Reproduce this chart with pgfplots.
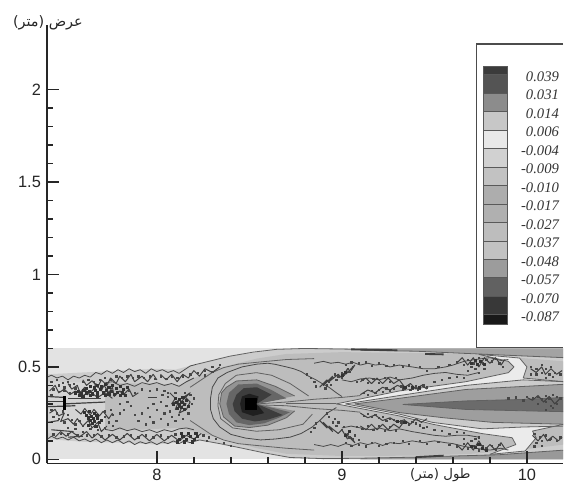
\documentclass[border=0pt]{standalone}
\usepackage{pgfplots}
\usepackage{fontspec}
\pgfplotsset{compat=1.18}
\setmainfont{Liberation Sans}
\newfontfamily\arabicfont[Script=Arabic]{DejaVu Sans}
\newfontfamily\legfont{Liberation Serif}
\TeXXeTstate=1
\newcommand\rg[2]{\addplot[fill=black!#1,draw=none,forget plot] coordinates {#2} -- cycle;}
\newcommand\cl[1]{\addplot[ctr,forget plot] coordinates {#1};}
\newcommand\nz[1]{\addplot[nzs,forget plot] coordinates {#1};}
\newcommand\scr[1]{\addplot[no marks,color=black!75,line width=0.75pt,line join=round,forget plot] coordinates {#1};}
\newcommand\spk[1]{\addplot[only marks,mark=square*,mark size=0.5pt,color=black!72,forget plot] coordinates {#1};}
\newcommand\dk[1]{\addplot[only marks,mark=square*,mark size=0.8pt,color=black!80,forget plot] coordinates {#1};}
\pgfplotsset{ctr/.style={no marks,color=black!62,line width=0.6pt,line join=round},
 nzs/.style={no marks,color=black!72,line width=0.6pt,line join=round}}
\begin{document}
\begin{tikzpicture}
\begin{scope}[x=0.75pt,y=-0.75pt,shift={(-47,-464)}]
\path[use as bounding box] (0,0) rectangle (564,486);
\end{scope}
\begin{axis}[
 scale only axis,width=387.75pt,height=329.25pt,
 xmin=7.406,xmax=10.196,ymin=-0.0216,ymax=2.35,
 axis x line*=bottom,axis y line*=left,axis line style={-,line width=1.2pt,color=black!85},
 xtick={8,9,10},ytick={0,0.5,1,1.5,2},yticklabels={0,0.5,1,1.5,2},
 minor x tick num=4,minor y tick num=4,
 tick align=inside,tick style={line width=1pt,color=black!85},
 major tick length=9pt,minor tick length=4.5pt,
 tick label style={font=\fontsize{12.3}{14}\selectfont,color=black!85},
 /pgf/number format/assume math mode=true,
 xticklabel style={yshift=-1pt},yticklabel style={xshift=-1pt},
 axis on top,
]
% background band
\rg{11}{(7.406,0)(10.2,0)(10.2,0.6)(7.406,0.6)}
% outer noisy region (light)
\rg{20}{(7.406,.46)(7.6,.47)(7.8,.48)(8,.49)(8.1,.485)(8.21,.514)(8.39,.558)(8.646,.595)(8.9,.6)(10.2,.6)(10.2,0)(8.9,0)(8.72,.01)(8.45,.063)(8.23,.105)(8.1,.09)(8,.08)(7.8,.09)(7.6,.095)(7.406,.11)}
\rg{36}{(9.1,.6)(10.2,.6)(10.2,.55)(9.85,.565)(9.4,.585)(9.1,.59)}
\rg{40}{(9.1,.0)(10.2,.0)(10.2,.05)(9.85,.025)(9.4,.012)(9.1,.006)}
% main body
\rg{26}{(7.72,.414)(7.9,.41)(8,.41)(8.12,.40)(8.2,.44)(8.36,.5)(8.54,.545)(8.7,.57)(9,.58)(9.4,.575)(9.7,.568)(9.95,.55)(10.2,.53)(10.2,.08)(9.95,.05)(9.7,.03)(9.4,.02)(9,.018)(8.7,.03)(8.54,.06)(8.36,.11)(8.2,.15)(8.12,.17)(8,.165)(7.9,.16)(7.72,.162)}
\rg{17}{(7.406,.42)(7.72,.414)(7.72,.162)(7.406,.14)}
% right white band and wedges
\rg{8}{(8.97,.3)(9.31,.37)(9.67,.42)(9.9,.469)(9.93,.5)(9.9,.53)(9.74,.568)(9.96,.548)(10.0,.5)(9.98,.44)(10.2,.42)(10.2,.19)(10.03,.153)(10.05,.117)(9.99,.045)(9.8,.027)(9.94,.08)(9.92,.117)(9.76,.139)(9.49,.19)(9.31,.235)}
\rg{20}{(9.02,.3)(9.31,.345)(9.67,.4)(9.98,.43)(10.2,.42)(10.2,.18)(9.98,.175)(9.76,.165)(9.49,.2)(9.31,.245)}
\rg{38}{(9.07,.3)(9.31,.33)(9.67,.378)(10.2,.406)(10.2,.19)(9.815,.2)(9.55,.225)(9.31,.253)}
\rg{58}{(9.33,.297)(9.67,.316)(10.01,.325)(10.2,.335)(10.2,.258)(10.01,.262)(9.67,.27)}
% pacman
\rg{42}{(8.34,.3)(8.35,.36)(8.376,.39)(8.43,.424)(8.54,.43)(8.64,.395)(8.745,.343)(8.538,.3)(8.745,.262)(8.7,.225)(8.6,.185)(8.5,.172)(8.42,.18)(8.36,.23)}
\rg{60}{(8.376,.3)(8.39,.36)(8.44,.405)(8.54,.41)(8.62,.375)(8.7,.33)(8.54,.3)(8.72,.255)(8.66,.225)(8.58,.195)(8.5,.185)(8.43,.2)(8.39,.245)}
\rg{76}{(8.41,.3)(8.43,.35)(8.47,.385)(8.54,.39)(8.62,.35)(8.54,.3)(8.68,.24)(8.6,.215)(8.53,.205)(8.46,.22)(8.42,.26)}
\rg{88}{(8.45,.3)(8.46,.34)(8.5,.355)(8.55,.34)(8.54,.3)(8.58,.25)(8.52,.235)(8.46,.255)}
\rg{100}{(8.475,.265)(8.54,.265)(8.54,.33)(8.475,.33)}
% pacman outline
\cl{(8.745,.343)(8.64,.395)(8.54,.43)(8.43,.424)(8.376,.39)(8.35,.36)(8.34,.3)(8.36,.23)(8.42,.18)(8.5,.172)(8.6,.185)(8.7,.225)(8.745,.262)}
% ring contours
\cl{(8.82,.343)(8.72,.41)(8.62,.455)(8.538,.469)(8.43,.455)(8.37,.41)(8.335,.35)(8.33,.29)(8.345,.22)(8.41,.17)(8.538,.152)(8.66,.16)(8.79,.19)(8.84,.244)}
\nz{(8.54,.515)(8.6,.52)(8.64,.514)(8.7,.5)(8.74,.49)(8.78,.475)(8.82,.45)(8.86,.43)(8.9,.406)(8.93,.39)(8.97,.36)(9.0,.34)}
\nz{(8.54,.515)(8.46,.5)(8.38,.47)(8.33,.44)(8.3,.39)(8.29,.33)(8.29,.27)(8.305,.22)(8.34,.175)(8.4,.135)(8.48,.115)(8.56,.105)(8.64,.11)(8.72,.12)(8.78,.14)(8.84,.175)(8.88,.21)(8.92,.25)(8.97,.28)}
\cl{(8.18,.39)(8.24,.43)(8.3,.47)(8.36,.496)(8.44,.515)(8.54,.525)(8.7,.54)(8.85,.545)}
\cl{(8.18,.21)(8.24,.17)(8.3,.13)(8.36,.105)(8.44,.085)(8.54,.075)(8.7,.06)(8.85,.05)}
\cl{(8.214,.514)(8.3,.535)(8.394,.558)(8.52,.58)(8.646,.595)(8.8,.6)(9.1,.595)}
\cl{(8.23,.105)(8.34,.085)(8.448,.063)(8.58,.035)(8.72,.01)(8.9,.004)(9.1,.006)}
% thin lines converging on the cusp
\cl{(8.54,.3)(8.7,.31)(8.85,.325)(9.0,.335)(9.1,.345)}
\cl{(8.54,.295)(8.7,.29)(8.85,.275)(9.0,.265)(9.1,.255)}
\cl{(8.7,.3)(8.97,.3)}
% wedge outlines
\cl{(8.97,.3)(9.31,.37)(9.67,.42)(9.9,.469)(9.93,.5)(9.9,.53)(9.74,.568)}
\cl{(8.97,.3)(9.31,.235)(9.49,.19)(9.76,.139)(9.92,.117)(9.94,.08)(9.8,.027)}
\cl{(9.02,.3)(9.31,.345)(9.67,.4)(9.98,.43)(10.2,.42)}
\cl{(9.02,.3)(9.31,.245)(9.49,.2)(9.76,.165)(9.98,.175)(10.2,.18)}
\cl{(9.07,.3)(9.31,.33)(9.67,.378)(10.2,.406)}
\cl{(9.07,.3)(9.31,.253)(9.55,.225)(9.815,.2)(10.2,.19)}
\cl{(9.33,.297)(9.67,.316)(10.01,.325)(10.2,.335)}
\cl{(9.33,.297)(9.67,.27)(10.01,.262)(10.2,.258)}
\cl{(9.74,.568)(9.96,.548)(10.0,.5)(9.98,.44)(10.2,.42)}
\cl{(9.8,.027)(9.99,.045)(10.05,.117)(10.03,.153)(10.2,.19)}
\cl{(9.1,.59)(9.4,.585)(9.85,.565)(10.2,.55)}
\cl{(9.1,.006)(9.4,.012)(9.85,.025)(10.2,.05)}
\addplot[no marks,black!75,line width=1.4pt,forget plot] coordinates {(9.45,.57)(9.55,.568)};
\addplot[no marks,black!75,line width=1.4pt,forget plot] coordinates {(9.05,.595)(9.3,.59)};
\addplot[no marks,black!75,line width=1.4pt,forget plot] coordinates {(9.4,.012)(9.55,.02)};
% noisy lobe contours
\nz{(8.85,.52)(8.9,.53)(8.94,.52)(8.98,.525)(9.02,.515)(9.06,.525)(9.1,.51)(9.14,.52)(9.18,.51)(9.22,.515)(9.26,.5)(9.31,.51)(9.38,.5)(9.44,.49)(9.5,.49)(9.56,.5)(9.6,.51)(9.66,.53)(9.72,.54)(9.8,.55)(9.86,.535)(9.9,.54)}
\nz{(8.85,.08)(8.9,.07)(8.94,.08)(8.98,.07)(9.02,.085)(9.06,.075)(9.1,.09)(9.14,.08)(9.18,.09)(9.22,.075)(9.26,.09)(9.31,.085)(9.38,.1)(9.44,.09)(9.5,.1)(9.56,.09)(9.6,.085)(9.66,.07)(9.72,.06)(9.8,.05)(9.86,.06)(9.9,.05)}
\nz{(9.0,.43)(9.05,.42)(9.1,.435)(9.15,.44)(9.2,.43)(9.26,.445)(9.31,.43)(9.38,.44)(9.44,.455)(9.5,.465)(9.56,.47)(9.62,.46)(9.68,.455)(9.74,.47)}
\nz{(9.0,.17)(9.05,.18)(9.1,.17)(9.15,.16)(9.2,.17)(9.26,.155)(9.31,.165)(9.38,.15)(9.44,.14)(9.5,.13)(9.56,.125)(9.62,.13)(9.68,.13)(9.74,.12)}
% scribbled contours, lobes
\scr{(8.88,.39)(8.92,.43)(8.9,.4)(8.95,.45)(8.93,.42)(8.98,.46)(9.0,.44)(9.03,.49)(9.02,.46)(9.07,.51)(9.05,.48)}
\scr{(8.88,.21)(8.92,.17)(8.9,.2)(8.95,.15)(8.93,.18)(8.98,.14)(9.0,.16)(9.03,.11)(9.02,.14)(9.07,.09)(9.05,.12)}
\scr{(9.1,.42)(9.13,.44)(9.16,.41)(9.19,.44)(9.22,.41)(9.25,.44)(9.28,.41)(9.31,.43)(9.34,.39)(9.37,.41)(9.4,.38)(9.43,.4)(9.46,.38)}
\scr{(9.1,.18)(9.13,.16)(9.16,.19)(9.19,.16)(9.22,.19)(9.25,.16)(9.28,.19)(9.31,.17)(9.34,.21)(9.37,.19)(9.4,.22)(9.43,.2)(9.46,.22)}
\scr{(9.62,.52)(9.65,.55)(9.68,.51)(9.71,.55)(9.74,.5)(9.77,.55)(9.8,.52)(9.83,.55)(9.86,.51)(9.88,.54)}
\scr{(9.62,.08)(9.65,.05)(9.68,.09)(9.71,.05)(9.74,.1)(9.77,.05)(9.8,.08)(9.83,.05)(9.86,.09)(9.88,.06)}
\scr{(9.1,.35)(9.14,.375)(9.18,.36)(9.22,.39)(9.26,.375)(9.3,.4)(9.34,.385)}
\scr{(9.1,.25)(9.14,.225)(9.18,.24)(9.22,.21)(9.26,.225)(9.3,.2)(9.34,.215)}
\scr{(10.02,.49)(10.05,.47)(10.08,.5)(10.1,.46)(10.13,.49)(10.16,.46)(10.19,.48)}
\scr{(10.03,.13)(10.06,.1)(10.09,.135)(10.11,.1)(10.14,.125)(10.17,.1)(10.19,.12)}
\scr{(10.0,.335)(10.03,.32)(10.06,.345)(10.09,.31)(10.12,.34)(10.15,.3)(10.18,.33)}
% specks upper lobe
\spk{(8.95,.44)(8.96,.46)(8.98,.45)(9.0,.47)(9.01,.46)(9.03,.49)(9.04,.475)(9.06,.5)(8.92,.4)(8.93,.42)(8.91,.385)(8.94,.405)(8.97,.43)(9.0,.44)
(9.02,.51)(9.05,.525)(9.09,.52)(9.13,.525)(9.16,.505)(9.2,.52)(9.24,.505)(9.28,.51)(9.33,.5)(9.36,.51)(9.42,.5)(9.46,.48)(9.52,.5)(9.58,.51)(9.62,.525)(9.66,.51)(9.68,.54)(9.71,.52)(9.74,.55)(9.76,.52)(9.78,.54)(9.81,.53)(9.83,.545)(9.85,.52)(9.87,.5)(9.72,.49)(9.74,.47)(9.7,.5)(9.77,.49)(9.68,.48)
(9.08,.42)(9.11,.43)(9.14,.415)(9.17,.435)(9.2,.415)(9.23,.44)(9.26,.42)(9.29,.44)(9.32,.395)(9.34,.385)(9.36,.4)(9.38,.385)(9.4,.395)(9.42,.385)(9.44,.4)(9.46,.39)(9.33,.38)(9.37,.375)(9.41,.375)(9.5,.42)(9.54,.43)(9.58,.44)(9.62,.445)(9.66,.44)
(9.14,.35)(9.18,.36)(9.22,.365)(9.26,.37)(9.16,.37)(9.2,.375)(9.24,.385)(9.12,.36)(9.28,.385)
(8.85,.42)(8.83,.44)(8.81,.46)(8.86,.395)}
\dk{(9.7,.52)(9.72,.535)(9.73,.515)(9.75,.53)(9.77,.515)(9.34,.39)(9.38,.39)(9.42,.39)(9.0,.455)(9.02,.47)}
% specks lower lobe
\spk{(8.92,.25)(8.93,.23)(8.95,.2)(8.96,.22)(8.97,.18)(8.98,.2)(9.0,.16)(9.01,.175)(9.03,.14)(9.04,.12)(9.06,.11)(9.07,.13)(9.09,.105)
(9.02,.09)(9.05,.075)(9.09,.08)(9.13,.07)(9.16,.09)(9.2,.075)(9.24,.085)(9.28,.09)(9.33,.1)(9.36,.085)(9.42,.1)(9.46,.085)(9.52,.095)(9.58,.08)(9.62,.07)(9.66,.085)(9.68,.06)(9.71,.075)(9.74,.05)(9.76,.075)(9.78,.06)(9.81,.075)(9.83,.055)(9.85,.08)(9.74,.12)(9.7,.1)(9.72,.11)(9.66,.11)
(9.08,.175)(9.11,.165)(9.14,.18)(9.17,.16)(9.2,.18)(9.23,.155)(9.26,.175)(9.29,.155)(9.32,.2)(9.34,.205)(9.36,.19)(9.38,.205)(9.4,.195)(9.42,.185)(9.44,.17)(9.46,.175)(9.5,.16)(9.54,.155)(9.58,.14)(9.62,.15)(9.66,.145)
(9.14,.245)(9.18,.24)(9.22,.23)(9.26,.22)(9.16,.23)(9.2,.225)(9.24,.21)(9.12,.235)(9.28,.215)(9.32,.21)
(8.85,.17)(8.83,.15)(8.86,.195)}
\dk{(9.7,.07)(9.72,.065)(9.74,.08)(9.76,.06)(9.78,.05)(9.3,.205)(9.34,.2)(9.02,.13)(9.04,.15)}
% specks right part
\spk{(10.02,.5)(10.05,.49)(10.08,.51)(10.1,.49)(10.13,.5)(10.05,.46)(10.08,.47)(10.12,.46)(10.15,.47)(10.18,.46)(10.02,.46)(10.1,.44)(10.14,.445)
(10.04,.14)(10.07,.12)(10.1,.13)(10.13,.11)(10.05,.09)(10.08,.1)(10.12,.105)(10.16,.1)(10.18,.12)(10.04,.07)(10.08,.075)
(9.9,.33)(9.94,.335)(9.98,.32)(10.0,.34)(10.03,.33)(10.06,.34)(10.08,.325)(10.1,.345)(10.12,.33)(10.14,.35)(10.16,.34)(10.18,.33)(10.06,.3)(10.1,.31)(10.13,.29)(10.16,.3)(10.1,.27)(10.14,.28)}
% left noisy zone: edges
\nz{(7.41,.445)(7.43,.455)(7.46,.44)(7.49,.45)(7.52,.43)(7.55,.45)(7.58,.44)(7.61,.455)(7.64,.445)(7.67,.47)(7.7,.46)(7.73,.48)(7.76,.465)(7.79,.485)(7.82,.47)(7.85,.49)(7.88,.475)(7.91,.485)(7.94,.465)(7.97,.49)(8.0,.475)(8.03,.485)(8.06,.47)(8.09,.48)(8.12,.465)(8.15,.485)(8.18,.505)(8.214,.514)}
\nz{(7.41,.11)(7.43,.125)(7.46,.11)(7.49,.12)(7.52,.105)(7.55,.12)(7.58,.1)(7.61,.11)(7.64,.095)(7.67,.11)(7.7,.09)(7.73,.105)(7.76,.09)(7.79,.105)(7.82,.085)(7.85,.1)(7.88,.08)(7.91,.095)(7.94,.085)(7.97,.095)(8.0,.08)(8.03,.095)(8.06,.085)(8.09,.1)(8.12,.085)(8.15,.1)(8.18,.09)(8.23,.105)}
\nz{(7.72,.414)(7.76,.42)(7.8,.4)(7.84,.41)(7.88,.395)(7.92,.415)(7.96,.405)(8.0,.415)(8.04,.4)(8.08,.41)(8.12,.395)(8.16,.42)(8.2,.44)}
\nz{(7.72,.162)(7.76,.155)(7.8,.17)(7.84,.155)(7.88,.165)(7.92,.15)(7.96,.16)(8.0,.145)(8.04,.16)(8.08,.15)(8.12,.165)(8.16,.17)(8.2,.16)}
% scribbled contours, left zone
\scr{(7.52,.41)(7.54,.38)(7.57,.40)(7.585,.36)(7.61,.39)(7.625,.35)(7.66,.38)(7.67,.41)(7.70,.37)(7.715,.40)(7.74,.36)(7.76,.39)(7.77,.34)(7.80,.37)(7.82,.35)(7.85,.38)(7.87,.34)(7.90,.36)}
\scr{(7.6,.43)(7.62,.40)(7.65,.425)(7.68,.39)(7.70,.43)(7.73,.40)(7.75,.44)(7.78,.41)(7.80,.45)(7.83,.42)(7.86,.46)(7.88,.42)(7.92,.45)(7.95,.42)(7.98,.46)(8.0,.43)}
\scr{(7.42,.37)(7.45,.40)(7.47,.36)(7.5,.38)(7.53,.35)(7.56,.37)(7.6,.345)(7.64,.365)(7.68,.335)(7.72,.36)(7.76,.33)}
\scr{(7.42,.25)(7.45,.27)(7.47,.235)(7.5,.25)(7.48,.205)(7.52,.22)(7.55,.19)(7.57,.22)(7.6,.18)(7.63,.21)(7.65,.17)(7.68,.2)(7.7,.15)(7.73,.18)}
\scr{(7.56,.27)(7.59,.245)(7.61,.275)(7.64,.24)(7.66,.27)(7.69,.235)(7.71,.26)(7.74,.22)(7.76,.25)}
\scr{(7.45,.12)(7.48,.15)(7.51,.125)(7.54,.15)(7.58,.12)(7.62,.15)(7.65,.115)(7.68,.14)(7.72,.105)(7.76,.135)(7.8,.105)(7.84,.14)(7.88,.105)(7.92,.135)(7.96,.1)(8.0,.135)(8.04,.1)(8.08,.13)(8.12,.1)(8.16,.13)(8.2,.11)(8.24,.14)}
\scr{(8.02,.46)(8.05,.43)(8.08,.46)(8.11,.42)(8.14,.46)(8.17,.44)(8.2,.48)(8.23,.45)(8.26,.49)(8.3,.47)(8.34,.5)}
\scr{(8.07,.36)(8.1,.33)(8.08,.3)(8.12,.32)(8.1,.27)(8.14,.29)(8.12,.25)(8.16,.27)(8.18,.31)(8.15,.34)(8.18,.36)(8.13,.31)(8.16,.3)}
% horizontal bars at the left
\addplot[no marks,black!75,line width=0.9pt,forget plot] coordinates {(7.41,.34)(7.5,.335)};
\addplot[no marks,black!75,line width=0.9pt,forget plot] coordinates {(7.41,.315)(7.5,.315)};
\addplot[no marks,black!75,line width=0.9pt,forget plot] coordinates {(7.5,.3)(7.72,.31)};
\addplot[no marks,black!75,line width=0.9pt,forget plot] coordinates {(7.52,.33)(7.7,.33)};
\addplot[no marks,black!75,line width=0.9pt,forget plot] coordinates {(7.41,.285)(7.56,.29)};
\addplot[no marks,black!75,line width=1pt,forget plot] coordinates {(7.95,.335)(8.0,.335)};
\addplot[no marks,black!75,line width=.8pt,forget plot] coordinates {(7.41,.2)(7.47,.21)};
\addplot[no marks,black!75,line width=.8pt,forget plot] coordinates {(7.43,.16)(7.55,.15)};
\addplot[no marks,black!75,line width=.8pt,forget plot] coordinates {(7.52,.12)(7.6,.125)};
% dark clusters
\dk{(7.63,.185)(7.65,.195)(7.67,.18)(7.69,.2)(7.64,.21)(7.66,.205)(7.68,.22)(7.7,.21)(7.63,.225)(7.655,.22)(7.675,.24)(7.62,.24)(7.645,.235)(7.66,.25)(7.61,.255)(7.635,.26)
(7.56,.36)(7.575,.37)(7.59,.355)(7.605,.375)(7.62,.36)(7.635,.37)(7.65,.355)(7.665,.375)(7.68,.36)(7.695,.38)(7.71,.36)(7.725,.375)(7.74,.355)(7.755,.37)(7.77,.35)(7.785,.365)(7.8,.345)(7.815,.36)(7.83,.345)(7.62,.385)(7.64,.395)(7.66,.39)(7.68,.4)(7.7,.395)(7.72,.405)(7.74,.39)(7.76,.4)(7.78,.385)(7.8,.395)(7.82,.38)(7.84,.39)(7.58,.345)(7.6,.34)(7.64,.345)(7.68,.34)(7.72,.345)
(8.09,.3)(8.105,.31)(8.12,.295)(8.135,.31)(8.15,.3)(8.1,.33)(8.12,.325)(8.14,.335)(8.16,.32)(8.11,.275)(8.13,.28)(8.15,.27)(8.17,.285)
(8.12,.11)(8.14,.125)(8.16,.11)(8.18,.125)(8.2,.11)(8.22,.125)(8.13,.14)(8.17,.14)(8.21,.14)(8.11,.095)(8.15,.095)(8.19,.095)}
\spk{(7.43,.42)(7.46,.43)(7.49,.415)(7.52,.42)(7.55,.41)(7.47,.4)(7.5,.39)(7.53,.4)(7.56,.385)(7.44,.38)(7.47,.365)(7.5,.37)(7.53,.36)(7.43,.35)(7.6,.42)(7.63,.43)(7.66,.42)(7.69,.43)(7.72,.44)(7.75,.43)(7.78,.45)(7.81,.44)(7.84,.45)(7.87,.44)(7.9,.45)(7.93,.44)(7.96,.45)(7.99,.435)(8.02,.45)(8.05,.435)(8.08,.45)(8.11,.44)(8.14,.45)(8.18,.46)(8.22,.47)(8.26,.48)(8.3,.5)(8.34,.51)(8.26,.455)(8.3,.475)
(7.43,.27)(7.46,.25)(7.44,.23)(7.49,.26)(7.47,.22)(7.52,.24)(7.5,.2)(7.54,.215)(7.56,.19)(7.58,.21)(7.6,.18)(7.52,.17)(7.56,.165)(7.6,.15)(7.64,.165)(7.68,.16)(7.72,.17)(7.76,.18)(7.74,.2)(7.78,.21)(7.72,.23)(7.76,.24)(7.8,.25)(7.75,.27)(7.72,.26)
(7.44,.135)(7.48,.14)(7.52,.135)(7.57,.13)(7.62,.13)(7.66,.13)(7.7,.125)(7.74,.13)(7.78,.12)(7.82,.125)(7.86,.13)(7.9,.12)(7.94,.13)(7.98,.12)(8.02,.13)(8.06,.12)(8.1,.135)(8.25,.13)(8.28,.12)(8.32,.11)(8.36,.09)(8.4,.075)(8.27,.1)
(7.8,.3)(7.82,.27)(7.84,.31)(7.86,.29)(7.88,.24)(7.9,.21)(7.92,.25)(7.94,.19)(7.96,.23)(7.98,.2)(8.0,.27)(8.02,.22)(8.04,.25)(8.06,.19)(7.85,.37)(7.88,.36)(7.92,.38)(7.96,.37)(8.0,.38)(8.04,.37)(8.06,.36)
(7.95,.28)(7.98,.3)(8.02,.31)(8.05,.29)(8.07,.26)(8.08,.23)(8.1,.21)(8.12,.24)(8.14,.22)(8.17,.25)(8.19,.3)(8.2,.33)(8.18,.35)(8.15,.36)(8.1,.36)(8.06,.34)(8.03,.35)}
\addplot[no marks,black,line width=2pt,forget plot] coordinates {(7.5,.265)(7.5,.345)};
\end{axis}
\begin{scope}[x=0.75pt,y=-0.75pt,shift={(-47,-464)}]
\fill[white] (477,44) rectangle (564,348);
\draw[black!70,line width=0.9pt] (564,44) -- (477,44) -- (477,348) -- (564,348);
\foreach \a/\b/\c in {66/74.7/77,74.7/93.2/67,93.2/111.7/45,111.7/130.2/22,130.2/148.7/9,148.7/167.2/18,167.2/185.7/24,185.7/204.2/32,204.2/222.7/31,222.7/241.2/26,241.2/259.7/24,259.7/278.2/39,278.2/296.7/62,296.7/315.2/78,315.2/325/90}
  \path[fill=black!\c,draw=black!65,line width=0.5pt] (484,\a) rectangle (508,\b);
\foreach \v [count=\i from 0] in {0.039,0.031,0.014,0.006,-0.004,-0.009,-0.010,-0.017,-0.027,-0.037,-0.048,-0.057,-0.070,-0.087}
  \node[anchor=east,inner sep=0pt,text=black!80,font=\legfont\itshape\fontsize{11}{13}\selectfont] at (560,76.7+18.5*\i) {\v};
\node[inner sep=0pt,text=black!85,font=\arabicfont\fontsize{10.8}{12}\selectfont] at (48,23) {\beginR عرض (متر)\endR};
\node[inner sep=0pt,text=black!85,font=\arabicfont\fontsize{10}{12}\selectfont] at (441,476) {\beginR طول (متر)\endR};
\end{scope}
\end{tikzpicture}
\end{document}
